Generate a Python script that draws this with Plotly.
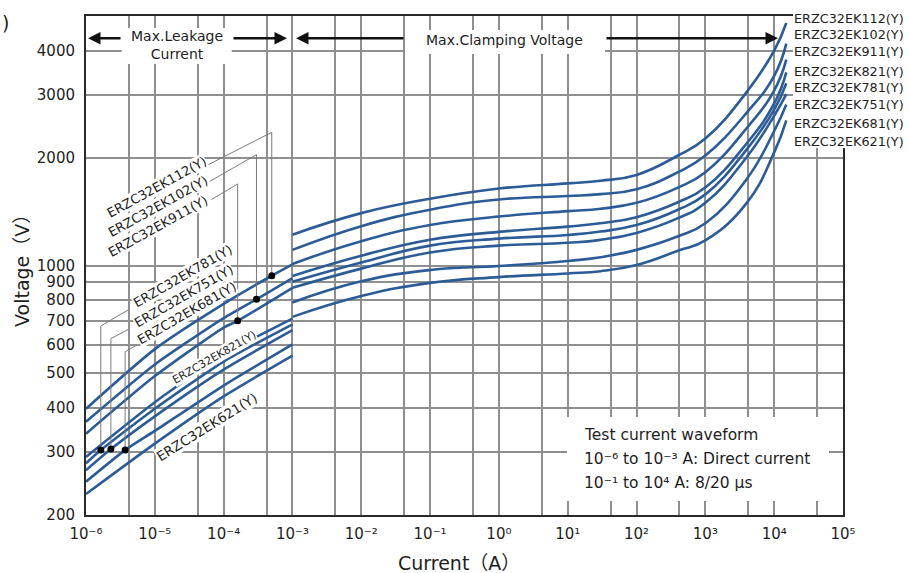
import math
import plotly.graph_objects as go

# ---------------- data ----------------
NAMES = ["ERZC32EK112(Y)", "ERZC32EK102(Y)", "ERZC32EK911(Y)", "ERZC32EK821(Y)",
         "ERZC32EK781(Y)", "ERZC32EK751(Y)", "ERZC32EK681(Y)", "ERZC32EK621(Y)"]

# Max. leakage current region (DC), current in A, voltage in V
I_LEAK = [1e-6, 1e-5, 1e-4, 1e-3]
V_LEAK_112 = [397, 583, 781, 1007]
V_LEAK_102 = [365, 528, 712, 922]
V_LEAK_911 = [338, 490, 670, 866]
V_LEAK_821 = [291, 414, 563, 710]
V_LEAK_781 = [279, 397, 538, 684]
V_LEAK_751 = [267, 378, 511, 659]
V_LEAK_681 = [248, 344, 461, 601]
V_LEAK_621 = [229, 317, 430, 559]

# Max. clamping voltage region (8/20 us)
I_CLAMP = [1e-3, 1e-2, 1e-1, 1, 10, 30, 100, 400, 1000, 4000, 10000, 15000]
V_CLAMP_112 = [1220, 1402, 1538, 1643, 1698, 1728, 1794, 2033, 2267, 3065, 4000, 4778]
V_CLAMP_102 = [1106, 1289, 1433, 1531, 1565, 1585, 1635, 1826, 2033, 2681, 3396, 4183]
V_CLAMP_911 = [1010, 1170, 1298, 1371, 1420, 1442, 1498, 1653, 1826, 2428, 3092, 3773]
V_CLAMP_821 = [935, 1065, 1181, 1242, 1285, 1313, 1366, 1504, 1653, 2200, 2844, 3476]
V_CLAMP_781 = [900, 1019, 1137, 1189, 1218, 1245, 1298, 1433, 1582, 2115, 2733, 3241]
V_CLAMP_751 = [866, 980, 1088, 1137, 1158, 1180, 1234, 1357, 1498, 2014, 2628, 3021]
V_CLAMP_681 = [788, 903, 971, 997, 1030, 1055, 1106, 1207, 1313, 1747, 2381, 2827]
V_CLAMP_621 = [718, 821, 894, 928, 950, 964, 1003, 1100, 1176, 1498, 2074, 2552]

# marked points (black dots) and their leader lines
DOT_SERIES = [0, 1, 2, 4, 5, 6]
DOT_I = [5e-4, 3e-4, 1.6e-4, 1.64e-6, 2.3e-6, 3.7e-6]
DOT_V = [936, 804, 700, 304, 306, 304]
LEADER_CORNER_V = [2361, 2045, 1692, 677, 624, 573]
LEADER_END_I = [6.0e-5, 6.3e-5, 6.6e-5, 4.1e-6, 4.1e-6, 5.5e-6]
LEADER_END_V = [1917, 1721, 1529, 751, 662, 599]

X_TICKS = [1e-6, 1e-5, 1e-4, 1e-3, 1e-2, 1e-1, 1, 10, 100, 1000, 1e4, 1e5]
X_TICK_TEXT = ["10⁻⁶", "10⁻⁵", "10⁻⁴", "10⁻³", "10⁻²", "10⁻¹",
               "10⁰", "10¹", "10²", "10³", "10⁴", "10⁵"]
X_MINOR = [4.2e-6, 4.2e-5, 4.2e-4, 4.2e-3, 4.2e-2, 4.2e-1, 4.2, 42, 420, 4200, 42000]
Y_TICKS = [200, 300, 400, 500, 600, 700, 800, 900, 1000, 2000, 3000, 4000]
Y_TICK_TEXT = ["200", "300", "400", "500", "600", "700", "800", "900",
               "1000", "2000", "3000", "4000"]

V_LEAK = [V_LEAK_112, V_LEAK_102, V_LEAK_911, V_LEAK_821,
          V_LEAK_781, V_LEAK_751, V_LEAK_681, V_LEAK_621]
V_CLAMP = [V_CLAMP_112, V_CLAMP_102, V_CLAMP_911, V_CLAMP_821,
           V_CLAMP_781, V_CLAMP_751, V_CLAMP_681, V_CLAMP_621]

# ---------------- styling ----------------
FONT = "DejaVu Sans, Verdana, Noto Sans CJK JP, sans-serif"
BLUE = "#2b5c98"
GRID = "#8f8f8f"
TXT = "#1e1e1e"
W, H = 909, 573
ML, MR, MT, MB = 86, 66, 16, 58
PW, PH = W - ML - MR, H - MT - MB


def px_x(px):
    return (px - ML) / PW


def px_y(py):
    return (MT + PH - py) / PH


fig = go.Figure()

for k in range(len(NAMES)):
    pts = list(zip(I_LEAK, V_LEAK[k]))
    if k in DOT_SERIES:
        j = DOT_SERIES.index(k)
        pts.append((DOT_I[j], DOT_V[j]))
    pts.sort()
    fig.add_trace(go.Scatter(
        x=[p[0] for p in pts], y=[p[1] for p in pts], mode="lines",
        line=dict(color=BLUE, width=2.6, shape="spline", smoothing=0.6),
        hoverinfo="skip", showlegend=False))
    fig.add_trace(go.Scatter(
        x=I_CLAMP, y=V_CLAMP[k], mode="lines", name=NAMES[k],
        line=dict(color=BLUE, width=2.6, shape="spline", smoothing=1.3),
        showlegend=False))

for j in range(len(DOT_I)):
    fig.add_trace(go.Scatter(
        x=[DOT_I[j], DOT_I[j], LEADER_END_I[j]],
        y=[DOT_V[j], LEADER_CORNER_V[j], LEADER_END_V[j]],
        mode="lines", line=dict(color="#7a7a7a", width=1),
        hoverinfo="skip", showlegend=False))

fig.add_trace(go.Scatter(x=DOT_I, y=DOT_V, mode="markers",
                         marker=dict(color="black", size=7),
                         hoverinfo="skip", showlegend=False))

axis_common = dict(showline=True, mirror=True, linecolor="#2a2a2a", linewidth=2,
                   ticks="", zeroline=False, showgrid=True, gridcolor=GRID,
                   gridwidth=2, tickfont=dict(family=FONT, size=15, color=TXT))

fig.update_xaxes(type="log", range=[-6, 5], tickvals=X_TICKS, ticktext=X_TICK_TEXT,
                 minor=dict(tickvals=X_MINOR, showgrid=True, gridcolor=GRID,
                            gridwidth=2, ticks=""),
                 ticklabelstandoff=4, **axis_common)
fig.update_yaxes(type="log", range=[math.log10(200), math.log10(5000)],
                 tickvals=Y_TICKS, ticktext=Y_TICK_TEXT, ticklabelstandoff=6,
                 **axis_common)

shapes = []
# white backgrounds behind text blocks
for (x0, x1, y0, y1) in [(121.7, 231.7, 28, 64), (405, 605, 30, 54),
                         (567, 829, 417, 501), (793, 909, 8, 148)]:
    shapes.append(dict(type="rect", xref="paper", yref="paper",
                       x0=px_x(x0), x1=px_x(x1), y0=px_y(y1), y1=px_y(y0),
                       fillcolor="white", line=dict(width=0), layer="above"))

ann = []
# range arrows
ARROW_Y = 38.3
for head, tail in [(88, 122), (287, 232), (296, 405), (778, 605)]:
    ann.append(dict(x=px_x(head), y=px_y(ARROW_Y), xref="paper", yref="paper",
                    ax=tail - head, ay=0, text="", showarrow=True, arrowhead=2,
                    arrowsize=1, arrowwidth=2.5, arrowcolor="#111", standoff=0))


def text(px, py, s, size=14, xanchor="center", angle=0, bg=None):
    d = dict(x=px_x(px), y=px_y(py), xref="paper", yref="paper", text=s,
             showarrow=False, xanchor=xanchor, yanchor="middle",
             font=dict(family=FONT, size=size, color=TXT), textangle=angle,
             borderpad=0)
    if bg:
        d["bgcolor"] = bg
    ann.append(d)


text(176.5, 45, "Max.Leakage<br>Current", 14)
text(504, 40, "Max.Clamping Voltage", 14)

text(583, 435, "Test current waveform", 15.5, "left")
text(583, 459.3, "10⁻⁶ to 10⁻³ A: Direct current", 15.5, "left")
text(583, 482.7, "10⁻¹ to 10⁴ A: 8/20 µs", 15.5, "left")

RIGHT_Y = [18.3, 34.3, 51.7, 71, 87.7, 104.3, 123.3, 141]
for name, yy in zip(NAMES, RIGHT_Y):
    text(793, yy, name, 12.8, "left")

ROT = [(NAMES[0], 156, 187, 13, -29), (NAMES[1], 157.5, 206, 13, -29),
       (NAMES[2], 157.5, 226, 13, -29), (NAMES[4], 182, 276, 13, -30),
       (NAMES[5], 183, 296, 13, -30), (NAMES[6], 186, 313, 13, -30),
       (NAMES[3], 214, 357, 11, -30), (NAMES[7], 206.5, 427, 13.5, -32)]
for s, xx, yy, sz, ang in ROT:
    text(xx, yy, s, sz, "center", ang, bg="white")

text(22, 266, "Voltage（V）", 19, "center", -90)
text(459, 563, "Current（A）", 19)
ann.append(dict(x=px_x(0), y=px_y(23), xref="paper", yref="paper", text=")",
                showarrow=False, xanchor="left", yanchor="middle",
                font=dict(family=FONT, size=19, color=TXT)))

fig.update_layout(width=W, height=H, autosize=False,
                  margin=dict(l=ML, r=MR, t=MT, b=MB, pad=0),
                  paper_bgcolor="white", plot_bgcolor="white",
                  showlegend=False, shapes=shapes, annotations=ann,
                  font=dict(family=FONT, color=TXT))

fig.write_html("out.html", config={"displayModeBar": False},
               post_script="document.body.style.margin='0';"
                           "document.body.style.overflow='hidden';")
